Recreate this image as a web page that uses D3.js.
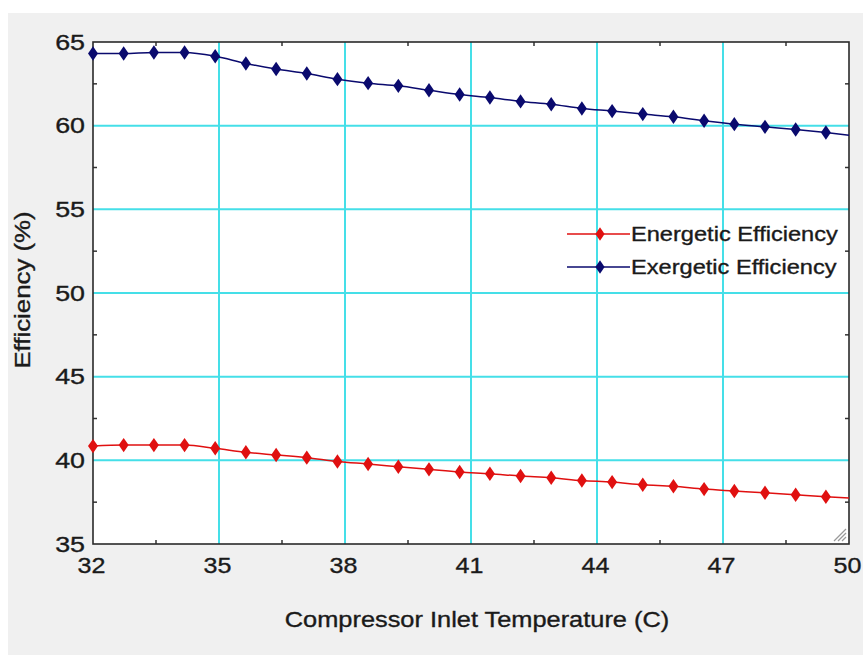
<!DOCTYPE html>
<html>
<head>
<meta charset="utf-8">
<script src="https://cdn.jsdelivr.net/npm/d3@7"></script>
<style>
  html, body { margin: 0; padding: 0; background: #ffffff; }
  svg { display: block; }
  text { font-family: "Liberation Sans", Arial, sans-serif; fill: #1a1a1a; stroke: #1a1a1a; stroke-width: 0.35px; }
</style>
</head>
<body>
<svg id="chart" width="863" height="655"></svg>
<script>
// Compressor inlet temperature (C) at each plotted symbol; the last entry is the curve end (no symbol)
const temperature = [32, 32.73, 33.45, 34.18, 34.91, 35.64, 36.36, 37.09, 37.82, 38.55,
  39.27, 40, 40.73, 41.45, 42.18, 42.91, 43.64, 44.36, 45.09, 45.82,
  46.55, 47.27, 48, 48.73, 49.45, 50];
const energetic = [40.85, 40.91, 40.91, 40.91, 40.72, 40.48, 40.32, 40.16, 39.93, 39.78,
  39.62, 39.46, 39.30, 39.20, 39.06, 38.96, 38.79, 38.70, 38.54, 38.45,
  38.28, 38.17, 38.06, 37.94, 37.82, 37.75];
const exergetic = [64.31, 64.31, 64.37, 64.37, 64.15, 63.72, 63.39, 63.12, 62.78, 62.54,
  62.38, 62.12, 61.86, 61.68, 61.45, 61.28, 61.03, 60.87, 60.69, 60.53,
  60.29, 60.09, 59.93, 59.77, 59.59, 59.43];
const xTicks = [32, 35, 38, 41, 44, 47, 50];
const yTicks = [35, 40, 45, 50, 55, 60, 65];
const seriesNames = ["Energetic Efficiency", "Exergetic Efficiency"];
const seriesColors = ["#e01010", "#0a0a6e"];

const svg = d3.select("#chart");
const W = 863, H = 655;
const plot = { left: 93, top: 42, right: 849, bottom: 544 };

// widen glyphs of a text selection by a factor
function widen(sel, k) {
  sel.each(function () {
    const w = this.getComputedTextLength();
    d3.select(this).attr("textLength", w * k).attr("lengthAdjust", "spacingAndGlyphs");
  });
}

// window background
svg.append("rect").attr("x", 8).attr("y", 13).attr("width", W - 8).attr("height", H - 13).attr("fill", "#f0f0f0");

const x = d3.scaleLinear().domain([32, 50]).range([plot.left, plot.right]);
const y = d3.scaleLinear().domain([35, 65]).range([plot.bottom, plot.top]);

svg.append("rect")
  .attr("x", plot.left).attr("y", plot.top)
  .attr("width", plot.right - plot.left).attr("height", plot.bottom - plot.top)
  .attr("fill", "#ffffff");

// grid
const grid = svg.append("g").attr("stroke", "#45dfe8").attr("stroke-width", 2);
grid.selectAll("line.gx").data(xTicks.slice(1, -1)).join("line")
  .attr("x1", d => x(d)).attr("x2", d => x(d)).attr("y1", plot.top).attr("y2", plot.bottom);
grid.selectAll("line.gy").data(yTicks.slice(1, -1)).join("line")
  .attr("y1", d => y(d)).attr("y2", d => y(d)).attr("x1", plot.left).attr("x2", plot.right);

// minor ticks (inward) on all four sides
const xMinor = xTicks.slice(0, -1).map(d => d + 1.5);
const yMinor = yTicks.slice(0, -1).map(d => d + 2.5);
const tickG = svg.append("g").attr("stroke", "#333").attr("stroke-width", 1.5);
xMinor.forEach(v => {
  tickG.append("line").attr("x1", x(v)).attr("x2", x(v)).attr("y1", plot.bottom).attr("y2", plot.bottom - 4);
  tickG.append("line").attr("x1", x(v)).attr("x2", x(v)).attr("y1", plot.top).attr("y2", plot.top + 4);
});
yMinor.forEach(v => {
  tickG.append("line").attr("y1", y(v)).attr("y2", y(v)).attr("x1", plot.left).attr("x2", plot.left + 4);
  tickG.append("line").attr("y1", y(v)).attr("y2", y(v)).attr("x1", plot.right).attr("x2", plot.right - 4);
});

// frame
svg.append("rect")
  .attr("x", plot.left).attr("y", plot.top)
  .attr("width", plot.right - plot.left).attr("height", plot.bottom - plot.top)
  .attr("fill", "none").attr("stroke", "#2a2a2a").attr("stroke-width", 1.6);

// tick labels via axes
const xAxis = d3.axisBottom(x).tickValues(xTicks).tickSize(0).tickPadding(13);
const gx = svg.append("g").attr("transform", `translate(-2,${plot.bottom})`).call(xAxis);
gx.select(".domain").remove();
gx.selectAll("text").attr("font-size", 22).attr("fill", "#1a1a1a")
  .attr("font-family", "'Liberation Sans', Arial, sans-serif").call(widen, 1.14);

const yAxis = d3.axisLeft(y).tickValues(yTicks).tickSize(0).tickPadding(8);
const gy = svg.append("g").attr("transform", `translate(${plot.left},0)`).call(yAxis);
gy.select(".domain").remove();
gy.selectAll("text").attr("font-size", 22).attr("fill", "#1a1a1a")
  .attr("font-family", "'Liberation Sans', Arial, sans-serif").call(widen, 1.22);

// axis titles
svg.append("text").attr("x", 477).attr("y", 627).attr("text-anchor", "middle")
  .attr("font-size", 21.5).text("Compressor Inlet Temperature (C)").call(widen, 1.18);
svg.append("text").attr("transform", "translate(30,290) rotate(-90)").attr("text-anchor", "middle")
  .attr("font-size", 21.5).text("Efficiency (%)").call(widen, 1.2);

// series
const diamond = d3.symbol().type(d3.symbolDiamond).size(60);
const seriesData = [energetic, exergetic];
seriesData.forEach((vals, s) => {
  const pts = temperature.map((t, i) => [t, vals[i]]);
  svg.append("path").datum(pts)
    .attr("fill", "none").attr("stroke", seriesColors[s]).attr("stroke-width", 1.5)
    .attr("d", d3.line().x(d => x(d[0])).y(d => y(d[1])).curve(d3.curveMonotoneX));
  svg.append("g").selectAll("path").data(pts.slice(0, -1)).join("path")
    .attr("d", diamond).attr("fill", seriesColors[s])
    .attr("transform", d => `translate(${x(d[0])},${y(d[1])}) scale(1.2,1)`);
});

// legend
const legend = svg.append("g");
seriesNames.forEach((name, i) => {
  const ly = 234 + i * 33;
  legend.append("line").attr("x1", 567).attr("x2", 630).attr("y1", ly).attr("y2", ly)
    .attr("stroke", seriesColors[i]).attr("stroke-width", 1.5);
  legend.append("path").attr("d", diamond).attr("fill", seriesColors[i])
    .attr("transform", `translate(600,${ly}) scale(1.1,0.95)`);
  legend.append("text").attr("x", 631).attr("y", ly + 7).attr("font-size", 20).text(name).call(widen, 1.18);
});

// resize grip in the corner
const grip = svg.append("g").attr("stroke", "#9a9a9a").attr("stroke-width", 1.3);
[0, 4, 8].forEach(o => {
  grip.append("line").attr("x1", 846 - 12 + o).attr("y1", 541).attr("x2", 846).attr("y2", 541 - 12 + o);
});
</script>
</body>
</html>
